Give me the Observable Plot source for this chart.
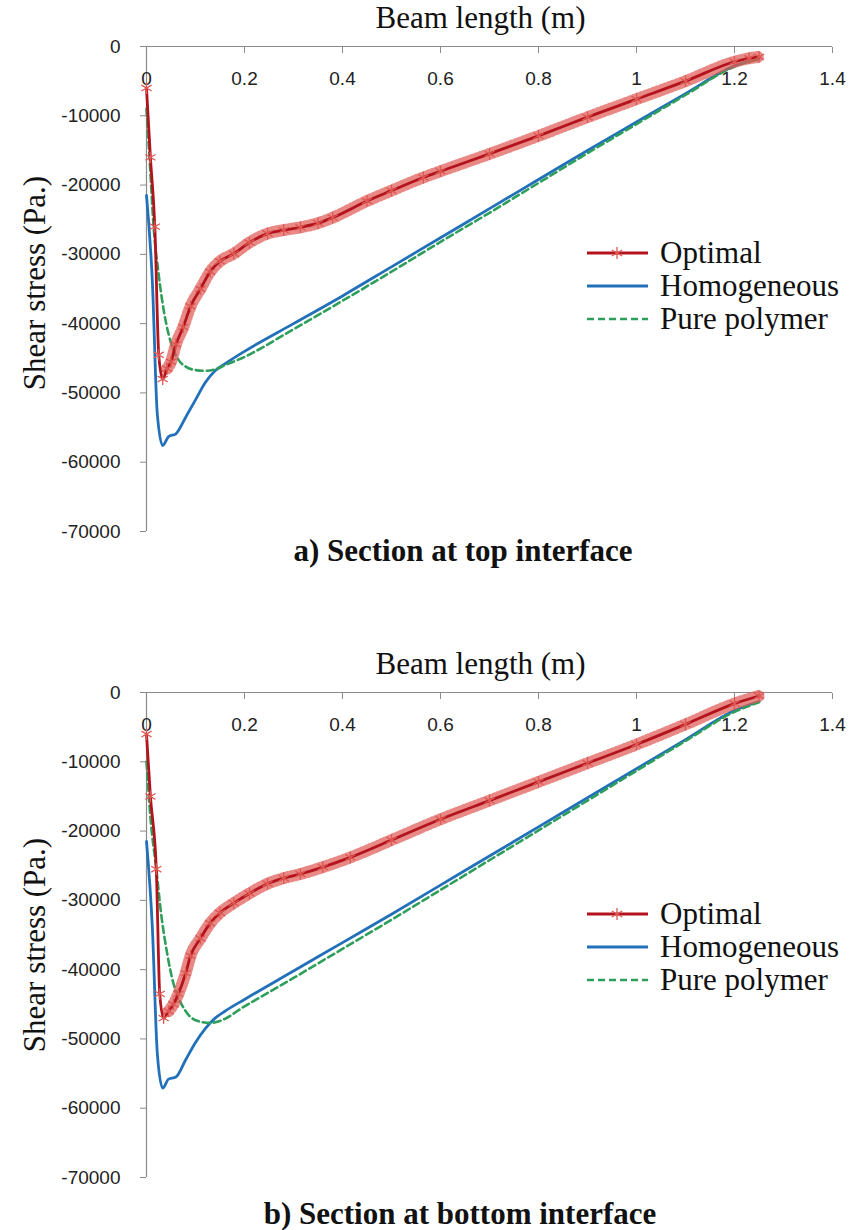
<!DOCTYPE html>
<html><head><meta charset="utf-8">
<script src="https://cdn.jsdelivr.net/npm/d3@7"></script>
<script src="https://cdn.jsdelivr.net/npm/@observablehq/plot@0.6"></script>
<style>
body{margin:0;background:#fff;}
#wrap{position:relative;width:850px;height:1230px;overflow:hidden;}
.chart{position:absolute;left:0;}
.title{position:absolute;font-family:"Liberation Serif",serif;font-weight:bold;font-size:31px;white-space:nowrap;transform:translate(-50%,-50%);color:#111;}
.legend{position:absolute;font-family:"Liberation Serif",serif;font-size:31px;color:#111;}
.row{display:flex;align-items:center;height:33px;white-space:nowrap;}
.row svg{margin-right:11px;}
</style></head>
<body><div id="wrap"></div>
<script>
// ---------- axis ticks ----------
const xTicks = [0, 0.2, 0.4, 0.6, 0.8, 1, 1.2, 1.4];
const yTicks = [0, -10000, -20000, -30000, -40000, -50000, -60000, -70000];
const seriesNames = ["Optimal", "Homogeneous", "Pure polymer"];
const titles = ["a) Section at top interface", "b) Section at bottom interface"];

// ---------- a) top interface ----------
const xa_opt = [0, 0.008, 0.017, 0.025, 0.033, 0.042, 0.05, 0.06, 0.075, 0.09, 0.11, 0.13, 0.15, 0.178, 0.21, 0.247, 0.28, 0.314, 0.35, 0.38, 0.45, 0.5, 0.565, 0.6, 0.7, 0.8, 0.9, 1.0, 1.1, 1.2, 1.23, 1.25];
const ya_opt = [-6000, -16000, -26000, -44500, -48000, -46500, -45500, -43000, -40500, -37500, -35000, -32500, -31000, -29900, -28300, -27000, -26500, -26100, -25500, -24700, -22300, -20800, -18900, -18000, -15500, -12900, -10200, -7600, -5000, -2200, -1700, -1500];
const xa_hom = [0, 0.012, 0.022, 0.033, 0.045, 0.06, 0.08, 0.1, 0.12, 0.14, 0.16, 0.2, 0.3, 0.4, 0.5, 0.6, 0.7, 0.8, 0.9, 1.0, 1.1, 1.2, 1.25];
const ya_hom = [-21500, -34000, -53000, -57600, -56300, -55900, -53500, -51000, -48500, -46800, -45800, -44000, -40000, -36000, -31800, -27600, -23400, -19200, -15000, -10900, -6800, -2800, -1700];
const xa_pp = [0, 0.007, 0.014, 0.025, 0.035, 0.045, 0.055, 0.065, 0.08, 0.1, 0.12, 0.14, 0.16, 0.2, 0.3, 0.4, 0.5, 0.6, 0.7, 0.8, 0.9, 1.0, 1.1, 1.2, 1.25];
const ya_pp = [-9000, -17000, -25500, -33000, -38000, -41500, -43800, -45200, -46200, -46700, -46800, -46600, -46000, -44800, -40800, -36700, -32500, -28200, -24000, -19700, -15400, -11200, -7000, -2900, -1800];

// ---------- b) bottom interface ----------
const xb_opt = [0, 0.008, 0.02, 0.027, 0.035, 0.045, 0.055, 0.065, 0.08, 0.09, 0.11, 0.13, 0.15, 0.178, 0.21, 0.247, 0.28, 0.314, 0.36, 0.416, 0.5, 0.6, 0.7, 0.8, 0.9, 1.0, 1.1, 1.2, 1.25];
const yb_opt = [-6000, -15000, -25500, -43500, -47000, -46000, -45000, -43500, -40500, -38000, -35500, -33300, -31800, -30400, -29000, -27600, -26800, -26200, -25200, -23800, -21300, -18300, -15600, -12900, -10200, -7500, -4600, -1600, -500];
const xb_hom = [0, 0.012, 0.022, 0.033, 0.045, 0.06, 0.08, 0.1, 0.12, 0.14, 0.16, 0.2, 0.3, 0.4, 0.5, 0.6, 0.7, 0.8, 0.9, 1.0, 1.1, 1.2, 1.25];
const yb_hom = [-21500, -34000, -52000, -57100, -55800, -55500, -53000, -50500, -48500, -47000, -46000, -44300, -40200, -36100, -32000, -27800, -23600, -19400, -15200, -11000, -6800, -2600, -1300];
const xb_pp = [0, 0.008, 0.02, 0.03, 0.043, 0.055, 0.065, 0.08, 0.1, 0.13, 0.15, 0.2, 0.3, 0.4, 0.5, 0.6, 0.7, 0.8, 0.9, 1.0, 1.1, 1.2, 1.25];
const yb_pp = [-10000, -18000, -25500, -32000, -38000, -42000, -44000, -46000, -47300, -47700, -47400, -45300, -41200, -37000, -32800, -28500, -24200, -19900, -15600, -11300, -7000, -2800, -1400];

// ---------- styles ----------
const C_OPT = "#B3131C", C_OPT_MK = "#DE5752", C_HOM = "#2270BA", C_PP = "#2E9E5B";
const SERIF = "Liberation Serif, Times New Roman, serif";

const toRows = (xs, ys) => xs.map((x, i) => ({x, y: ys[i]}));

function makeChart(opt, hom, pp, labelDy) {
  return Plot.plot({
    width: 850, height: 536,
    marginTop: 46, marginLeft: 146, marginRight: 18, marginBottom: 5,
    x: {domain: [0, 1.4]},
    y: {domain: [-70000, 0]},
    style: {fontFamily: "Liberation Sans, Arial, sans-serif", fontSize: "19px", color: "#222", background: "#fff", overflow: "visible"},
    marks: [
      Plot.ruleY([0], {stroke: "#8a8a8a", strokeWidth: 1.2}),
      Plot.ruleX([0], {stroke: "#8a8a8a", strokeWidth: 1.2}),
      Plot.axisY({ticks: yTicks, tickSize: 6, tickPadding: 20, tickFormat: d => String(d), stroke: "#8a8a8a", label: null}),
      Plot.axisX({anchor: "top", ticks: xTicks, tickSize: -6, tickFormat: () => "", stroke: "#8a8a8a", label: null}),
      Plot.text(xTicks, {x: d => d, frameAnchor: "top", lineAnchor: "middle", dy: 32, text: d => String(d), fill: "#222"}),
      Plot.text(["Beam length (m)"], {frameAnchor: "top", lineAnchor: "middle", textAnchor: "middle", dy: -28, dx: -9, fontFamily: SERIF, fontSize: 31, fill: "#111"}),
      Plot.text(["Shear stress (Pa.)"], {frameAnchor: "left", textAnchor: "middle", lineAnchor: "middle", dx: -111, dy: labelDy, rotate: -90, fontFamily: SERIF, fontSize: 31, fill: "#111"}),
      Plot.line(hom, {x: "x", y: "y", stroke: C_HOM, strokeWidth: 2.8, curve: "monotone-x"}),
      Plot.line(pp, {x: "x", y: "y", stroke: C_PP, strokeWidth: 2.6, strokeDasharray: "7 4", curve: "monotone-x"}),
      Plot.line(opt.filter(d => d.x >= 0.04), {x: "x", y: "y", stroke: C_OPT_MK, strokeWidth: 12, strokeDasharray: "1.2 3", strokeOpacity: 0.7, curve: "monotone-x"}),
      Plot.line(opt, {x: "x", y: "y", stroke: C_OPT, strokeWidth: 2.8, curve: "monotone-x"}),
      Plot.dot(opt, {x: "x", y: "y", symbol: "asterisk", r: 5.5, stroke: C_OPT_MK, strokeWidth: 1.3})
    ]
  });
}

function legend(top) {
  const div = document.createElement("div");
  div.className = "legend";
  div.style.left = "585px";
  div.style.top = top + "px";
  const samples = [
    `<svg width="64" height="20"><line x1="2" y1="10" x2="63" y2="10" stroke="${C_OPT}" stroke-width="2.8"/><path d="M32,4V16M26.8,7L37.2,13M26.8,13L37.2,7" stroke="${C_OPT_MK}" stroke-width="1.3"/></svg>`,
    `<svg width="64" height="20"><line x1="2" y1="10" x2="63" y2="10" stroke="${C_HOM}" stroke-width="2.8"/></svg>`,
    `<svg width="64" height="20"><line x1="2" y1="10" x2="63" y2="10" stroke="${C_PP}" stroke-width="2.6" stroke-dasharray="7 4"/></svg>`
  ];
  div.innerHTML = seriesNames.map((n, i) => `<div class="row">${samples[i]}<span>${n}</span></div>`).join("");
  return div;
}

const wrap = document.getElementById("wrap");
const specs = [
  {top: 0, opt: toRows(xa_opt, ya_opt), hom: toRows(xa_hom, ya_hom), pp: toRows(xa_pp, ya_pp), labelDy: -6, legendTop: 236, title: [463, 551]},
  {top: 646, opt: toRows(xb_opt, yb_opt), hom: toRows(xb_hom, yb_hom), pp: toRows(xb_pp, yb_pp), labelDy: 10, legendTop: 897, title: [460, 1214]}
];
specs.forEach((s, i) => {
  const svg = makeChart(s.opt, s.hom, s.pp, s.labelDy);
  const holder = document.createElement("div");
  holder.className = "chart";
  holder.style.top = s.top + "px";
  holder.appendChild(svg);
  wrap.appendChild(holder);
  wrap.appendChild(legend(s.legendTop));
  const t = document.createElement("div");
  t.className = "title";
  t.style.left = s.title[0] + "px";
  t.style.top = s.title[1] + "px";
  t.textContent = titles[i];
  wrap.appendChild(t);
});
</script>
</body></html>
